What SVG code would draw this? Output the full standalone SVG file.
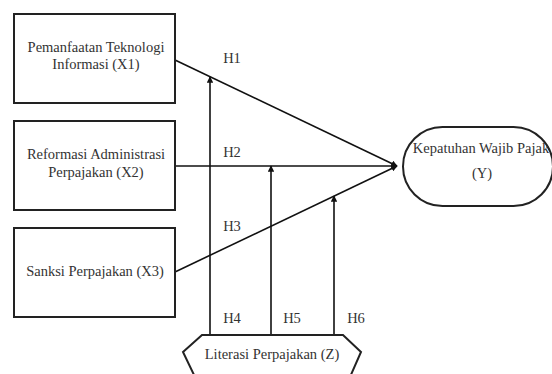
<svg xmlns="http://www.w3.org/2000/svg" width="552" height="374" viewBox="0 0 552 374">
<defs>
<marker id="ah" viewBox="0 0 10 10" refX="9" refY="5" markerWidth="4" markerHeight="4" orient="auto" markerUnits="strokeWidth">
<path d="M0,0 L10,5 L0,10 z" fill="#111"/>
</marker>
<style>
.n{fill:#fff;stroke:#222;stroke-width:2}
.t{font-family:"Liberation Serif","Times New Roman",serif;font-size:14.5px;fill:#333;text-anchor:middle}
.c{stroke:#111;stroke-width:1.6;fill:none}
</style>
</defs>
<rect width="552" height="374" fill="#fff"/>
<g id="connectors">
<line class="c" x1="175" y1="60" x2="397" y2="166" marker-end="url(#ah)"/>
<line class="c" x1="175" y1="166" x2="397" y2="166" marker-end="url(#ah)"/>
<line class="c" x1="175" y1="272" x2="397" y2="166" marker-end="url(#ah)"/>
<line class="c" x1="210" y1="335" x2="210" y2="77" marker-end="url(#ah)"/>
<line class="c" x1="271" y1="335" x2="271" y2="166" marker-end="url(#ah)"/>
<line class="c" x1="334" y1="335" x2="334" y2="196" marker-end="url(#ah)"/>
<text class="t" x="232" y="63">H1</text>
<text class="t" x="232" y="157">H2</text>
<text class="t" x="232" y="231">H3</text>
<text class="t" x="232" y="323">H4</text>
<text class="t" x="292" y="323">H5</text>
<text class="t" x="356" y="323">H6</text>
</g>
<g id="x1">
<rect class="n" x="14" y="14" width="161" height="89"/>
<text class="t" x="96" y="52">Pemanfaatan Teknologi</text>
<text class="t" x="96" y="69">Informasi (X1)</text>
</g>
<g id="x2">
<rect class="n" x="14" y="121" width="161" height="89"/>
<text class="t" x="96" y="159">Reformasi Administrasi</text>
<text class="t" x="96" y="177">Perpajakan (X2)</text>
</g>
<g id="x3">
<rect class="n" x="14" y="228" width="161" height="89"/>
<text class="t" x="95" y="276">Sanksi Perpajakan (X3)</text>
</g>
<g id="y">
<rect class="n" x="403" y="127" width="150" height="79" rx="39.5"/>
<text class="t" x="481" y="153">Kepatuhan Wajib Pajak</text>
<text class="t" x="482" y="178">(Y)</text>
</g>
<g id="z">
<polygon class="n" points="202,335 343,335 361,352 350,377 195,377 183,352"/>
<text class="t" x="272" y="359">Literasi Perpajakan (Z)</text>
</g>
</svg>
